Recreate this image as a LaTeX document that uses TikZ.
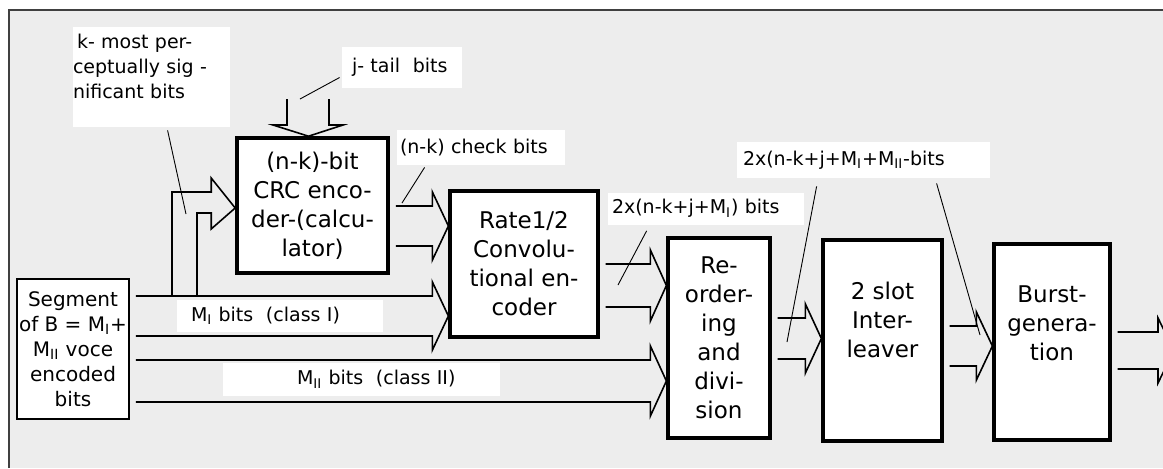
\documentclass[tikz,border=0pt]{standalone}
\usepackage{fontspec}
\setmainfont{DejaVu Sans}
\usetikzlibrary{calc}
\def\hl{16}
\def\hb{14}
\definecolor{paper}{gray}{0.93}
\tikzstyle{block}=[draw,line width=1.6pt,fill=white,align=center,font=\fontsize{11.5}{14.5}\selectfont]
\tikzstyle{tag}=[fill=white,inner sep=0pt,align=left,font=\fontsize{9.5}{12.5}\selectfont]
\tikzstyle{wire}=[line width=.8pt]
\tikzstyle{pointer}=[line width=.45pt]
\newcommand{\newBlock}[5]{\node[block,minimum width=#3,minimum height=#4,#5] (#1) {#2};}
\newcommand{\newTag}[7][]{\node[tag,text width=#4,minimum height=#5,#1] (#2) at #6 {\hspace*{#7}#3};}
% hollow double-line arrow from node #1 to the edge #2, lines at heights #3 and #4
\newcommand{\fatArrow}[4]{
  \pgfmathsetmacro\ym{(#3+#4)/2}
  \coordinate (tip) at (#2 |- 0,\ym);
  \draw[wire,shorten <=3pt,shorten >=3pt] (#1.east |- 0,#3) -- ($(tip |- 0,#3)-(\hl,0)$) -- ++(0,-\hb) -- (tip)
    -- ($(tip |- 0,#4)-(\hl,-\hb)$) -- ++(0,-\hb) -- (#1.east |- 0,#4);}

\begin{document}
\begin{tikzpicture}[x=.5pt,y=-.5pt]
  \useasboundingbox (0,0) rectangle (1163,468);
  \clip (0,0) rectangle (1163,468);
  \fill[white] (0,0) rectangle (1163,468);
  \fill[paper] (9,10) rectangle (1163,468);
  \draw[line width=.8pt,black!75] (9,468) |- (1163,10);

  % blocks
  \newBlock{seg}{Segment\\of B = M\textsubscript{I}+\\M\textsubscript{II} voce\\encoded\\bits}{54pt}{70pt}{line width=.8pt,font=\fontsize{10}{12.5}\selectfont,inner sep=1pt,at={(73,349)}}
  \newBlock{crc}{(n-k)-bit\\CRC enco-\\der-(calcu-\\lator)}{75.5pt}{67.5pt}{line width=1.8pt,at={(312.5,205.5)}}
  \newBlock{rate}{Rate1/2\\Convolu-\\tional en-\\coder}{74pt}{73pt}{at={(524,264)}}
  \newBlock{reord}{Re-\\order-\\ing\\and\\divi-\\sion}{51pt}{100pt}{at={(719,338)}}
  \newBlock{inter}{2 slot\\Inter-\\leaver}{59.5pt}{100.5pt}{text depth=21pt,at={(882.5,340.5)}}
  \newBlock{burst}{Burst-\\genera-\\tion}{58pt}{98pt}{text depth=19pt,at={(1052,342)}}

  % labels
  \newTag[text depth=36pt]{kmost}{k- most per-\\ceptually sig -\\nificant bits}{78.5pt}{50pt}{(151.5,77)}{2pt}
  \newTag{jtail}{j- tail \ bits}{60pt}{20.5pt}{(402,67.5)}{5pt}
  \newTag{check}{(n-k) check bits}{84pt}{17.5pt}{(481,147.5)}{1.5pt}
  \newTag{mI}{M\textsubscript{I} bits \ (class I)}{103pt}{16pt}{(280,316)}{7pt}
  \newTag{mII}{M\textsubscript{II} bits \ (class II)}{138.5pt}{16.5pt}{(361.5,379.5)}{37pt}
  \newTag{twoA}{2x(n-k+j+M\textsubscript{I}) bits}{98pt}{16pt}{(706,208.5)}{2pt}
  \newTag{twoB}{2x(n-k+j+M\textsubscript{I}+M\textsubscript{II}-bits}{126.5pt}{18pt}{(863.5,160)}{3pt}

  % data paths
  \fatArrow{crc}{rate.west}{206}{246}
  \fatArrow{seg}{rate.west}{296}{336}
  \fatArrow{rate}{reord.west}{264}{307}
  \fatArrow{seg}{reord.west}{360}{402}
  \fatArrow{reord}{inter.west}{318}{359}
  \fatArrow{inter}{burst.west}{326}{366}
  \coordinate (out) at (1174,350);
  \fatArrow{burst}{out}{332}{369}

  \coordinate (br1) at (172,296);
  \coordinate (br2) at (197,296);
  \draw[wire] (br1) |- ($(crc.west |- 0,192)-(24,0)$) -- ++(0,-\hb) -- (crc.west |- 0,208)
    -- ($(crc.west |- 0,213)-(24,-16)$) -- ++(0,-16) -| (br2);
  \coordinate (jA) at (287,99);
  \coordinate (jB) at (329,99);
  \draw[wire] (jA) -- ++(0,26) -- ++(-14,0) -- ([xshift=-2pt]crc.north) -- ($(jB)+(14,26)$) -- ++(-14,0) -- (jB);

  % leader lines
  \coordinate (kEnd) at (186,214);
  \coordinate (jEnd) at (300,99);
  \coordinate (cEnd) at (402,203);
  \coordinate (aEnd) at (618,285);
  \coordinate (bEnd) at (787,342);
  \coordinate (dEnd) at (980,335);
  \draw[pointer] ([shift={(95,3)}]kmost.south west) -- (kEnd);
  \draw[pointer] ([shift={(-2,10)}]jtail.west) -- (jEnd);
  \draw[pointer] ([shift={(28,2)}]check.south west) -- (cEnd);
  \draw[pointer] ([shift={(39,6)}]twoA.south west) -- (aEnd);
  \draw[pointer] ([shift={(80,8)}]twoB.south west) -- (bEnd);
  \draw[pointer] ([shift={(200,5)}]twoB.south west) -- (dEnd);
\end{tikzpicture}
\end{document}
